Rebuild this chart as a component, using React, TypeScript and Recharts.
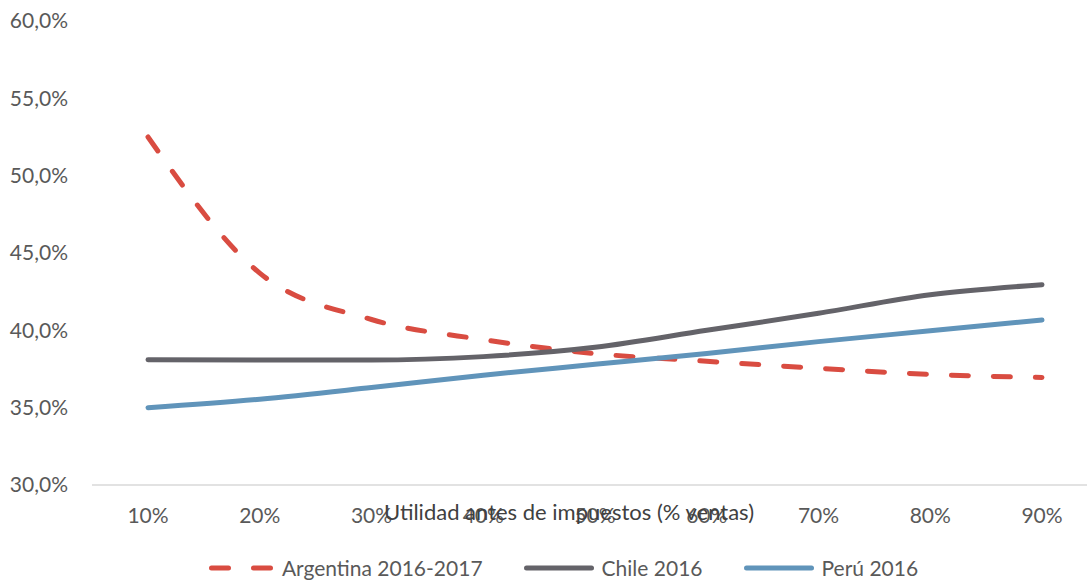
import { LineChart, Line, XAxis, YAxis } from 'recharts';

// Tramos de utilidad antes de impuestos (% ventas)
const tramos = ['10%', '20%', '30%', '40%', '50%', '60%', '70%', '80%', '90%'];

// Presión tributaria total (%) por tramo
const argentina = [52.5, 43.7, 40.7, 39.4, 38.5, 38.0, 37.55, 37.15, 36.95];
const chile = [38.1, 38.08, 38.08, 38.3, 38.9, 40.0, 41.1, 42.3, 42.95];
const peru = [35.0, 35.55, 36.3, 37.1, 37.8, 38.5, 39.27, 39.97, 40.67];

const ticksY = [30, 35, 40, 45, 50, 55, 60];

const series = [
  { clave: 'argentina', nombre: 'Argentina 2016-2017', color: '#D94C41', dash: '17 25' },
  { clave: 'chile', nombre: 'Chile 2016', color: '#646369' },
  { clave: 'peru', nombre: 'Perú 2016', color: '#6094BA' },
];

const datos = tramos.map((t, i) => ({
  tramo: t,
  argentina: argentina[i],
  chile: chile[i],
  peru: peru[i],
}));

const FUENTE = 'Lato, "Open Sans", sans-serif';
const GRIS_TEXTO = '#595959';

const formatoPct = (v: number) => `${v.toFixed(1).replace('.', ',')}%`;

const Leyenda = () => (
  <div
    style={{
      display: 'flex',
      justifyContent: 'center',
      alignItems: 'center',
      width: 1100,
      height: 24,
      paddingLeft: 11,
      boxSizing: 'border-box',
      fontFamily: FUENTE,
      fontSize: 21,
      lineHeight: '24px',
      color: GRIS_TEXTO,
    }}
  >
    {series.map((s, i) => (
      <div key={s.clave} style={{ display: 'flex', alignItems: 'center', marginLeft: i === 0 ? 0 : 41 }}>
        <svg width={70} height={10} style={{ marginRight: 8, display: 'block' }}>
          <line
            x1={2.5}
            y1={5}
            x2={s.dash ? 62.5 : 67.5}
            y2={5}
            stroke={s.color}
            strokeWidth={5}
            strokeLinecap="round"
            strokeDasharray={s.dash}
          />
        </svg>
        <span style={{ marginLeft: s.dash ? -5 : 0, whiteSpace: 'nowrap' }}>{s.nombre}</span>
      </div>
    ))}
  </div>
);

export default function App() {
  return (
    <div style={{ position: 'absolute', top: 0, left: 0, width: 1087, height: 580, overflow: 'hidden', background: '#fff' }}>
      <div style={{ position: 'absolute', top: 8, left: 8 }}>
        <LineChart width={1100} height={548} data={datos} margin={{ top: 13, right: 10, bottom: 0, left: 0 }}>
          <XAxis
            dataKey="tramo"
            height={71}
            padding={{ left: 56, right: 56 }}
            axisLine={{ stroke: '#D9D9D9', strokeWidth: 1.5 }}
            tickLine={false}
            tickSize={0}
            tickMargin={23}
            tick={{ fill: GRIS_TEXTO, fontSize: 21, fontFamily: FUENTE }}
            label={{
              value: 'Utilidad antes de impuestos (% ventas)',
              position: 'insideTop',
              offset: 19.6,
              dx: -26,
              fill: '#404040',
              fontSize: 22,
              fontFamily: FUENTE,
            }}
          />
          <YAxis
            width={84}
            domain={[30, 60]}
            ticks={ticksY}
            axisLine={false}
            tickLine={false}
            tickSize={0}
            tickMargin={24}
            tickFormatter={formatoPct}
            tick={{ fill: GRIS_TEXTO, fontSize: 21, fontFamily: FUENTE }}
          />
          {series.map((s) => (
            <Line
              key={s.clave}
              type="monotone"
              dataKey={s.clave}
              name={s.nombre}
              stroke={s.color}
              strokeWidth={5}
              strokeDasharray={s.dash}
              strokeLinecap="round"
              dot={false}
              activeDot={false}
              isAnimationActive={false}
            />
          ))}
        </LineChart>
        <Leyenda />
      </div>
    </div>
  );
}
